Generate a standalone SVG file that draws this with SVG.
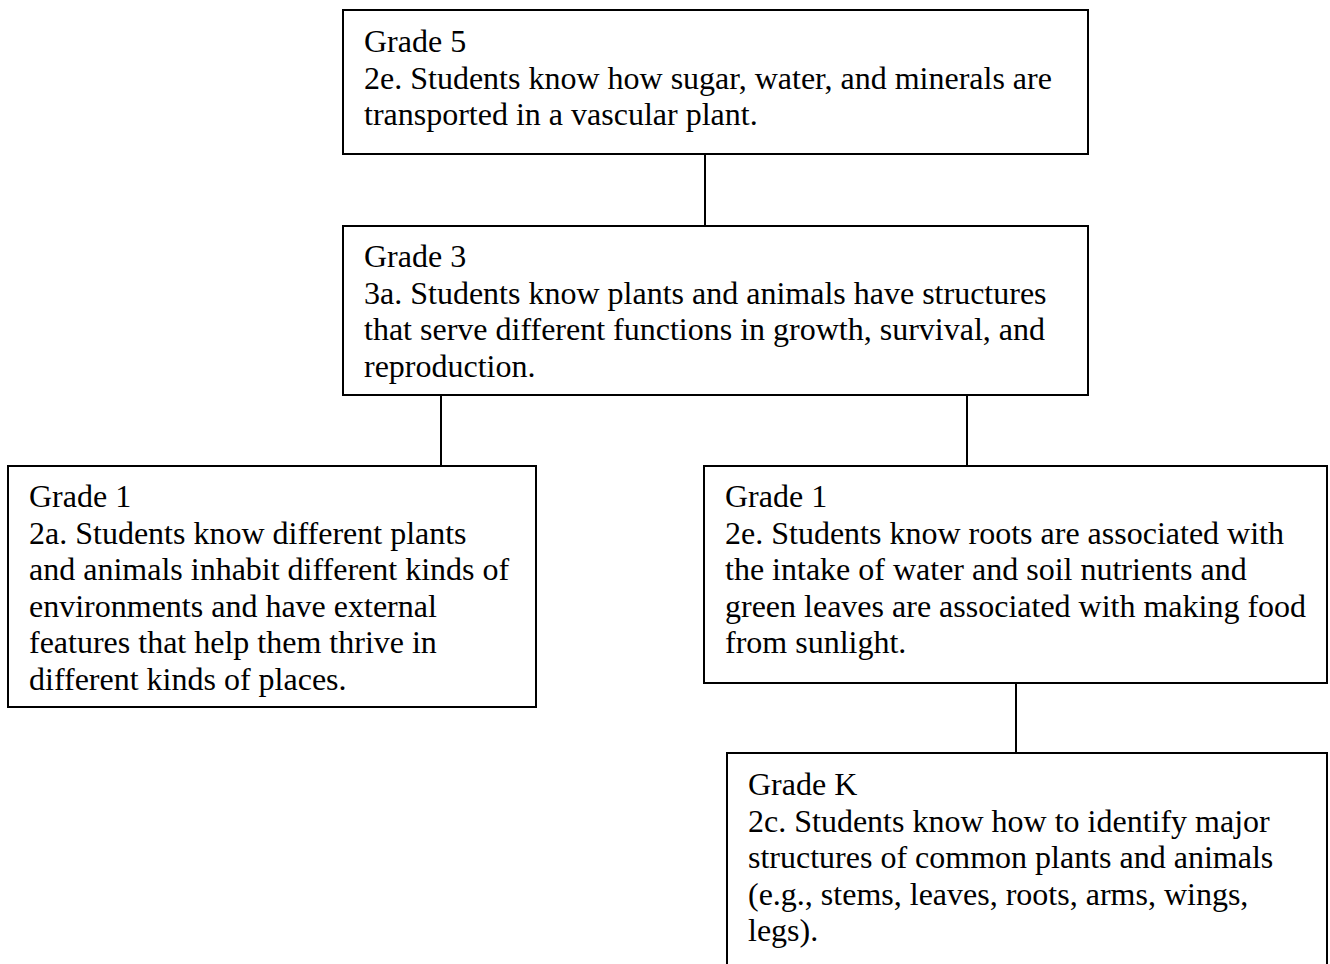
<svg xmlns="http://www.w3.org/2000/svg" width="1330" height="964" viewBox="0 0 1330 964">
  <style>
    .box { fill: #ffffff; stroke: #000000; stroke-width: 2; }
    .link { stroke: #000000; stroke-width: 2; fill: none; }
    text { font-family: "Liberation Serif", "Times New Roman", serif; font-size: 32px; fill: #000000; }
  </style>
  <rect x="0" y="0" width="1330" height="964" fill="#ffffff"/>

  <!-- connectors between standards -->
  <g id="connectors">
    <line class="link" x1="705" y1="154" x2="705" y2="226"/>
    <line class="link" x1="441" y1="395" x2="441" y2="466"/>
    <line class="link" x1="967" y1="395" x2="967" y2="466"/>
    <line class="link" x1="1016" y1="683" x2="1016" y2="753"/>
  </g>

  <g id="grade5">
    <rect class="box" x="343" y="10" width="745" height="144"/>
    <text x="364" y="52">Grade 5</text>
    <text x="364" y="88.5">2e. Students know how sugar, water, and minerals are</text>
    <text x="364" y="125">transported in a vascular plant.</text>
  </g>

  <g id="grade3">
    <rect class="box" x="343" y="226" width="745" height="169"/>
    <text x="364" y="267">Grade 3</text>
    <text x="364" y="303.5">3a. Students know plants and animals have structures</text>
    <text x="364" y="340">that serve different functions in growth, survival, and</text>
    <text x="364" y="376.5">reproduction.</text>
  </g>

  <g id="grade1-2a">
    <rect class="box" x="8" y="466" width="528" height="241"/>
    <text x="29" y="507">Grade 1</text>
    <text x="29" y="543.5">2a. Students know different plants</text>
    <text x="29" y="580">and animals inhabit different kinds of</text>
    <text x="29" y="616.5">environments and have external</text>
    <text x="29" y="653">features that help them thrive in</text>
    <text x="29" y="689.5">different kinds of places.</text>
  </g>

  <g id="grade1-2e">
    <rect class="box" x="704" y="466" width="623" height="217"/>
    <text x="725" y="507">Grade 1</text>
    <text x="725" y="543.5">2e. Students know roots are associated with</text>
    <text x="725" y="580">the intake of water and soil nutrients and</text>
    <text x="725" y="616.5">green leaves are associated with making food</text>
    <text x="725" y="653">from sunlight.</text>
  </g>

  <g id="gradeK">
    <rect class="box" x="727" y="753" width="600" height="230"/>
    <text x="748" y="795">Grade K</text>
    <text x="748" y="831.5">2c. Students know how to identify major</text>
    <text x="748" y="868">structures of common plants and animals</text>
    <text x="748" y="904.5">(e.g., stems, leaves, roots, arms, wings,</text>
    <text x="748" y="941">legs).</text>
  </g>
</svg>
